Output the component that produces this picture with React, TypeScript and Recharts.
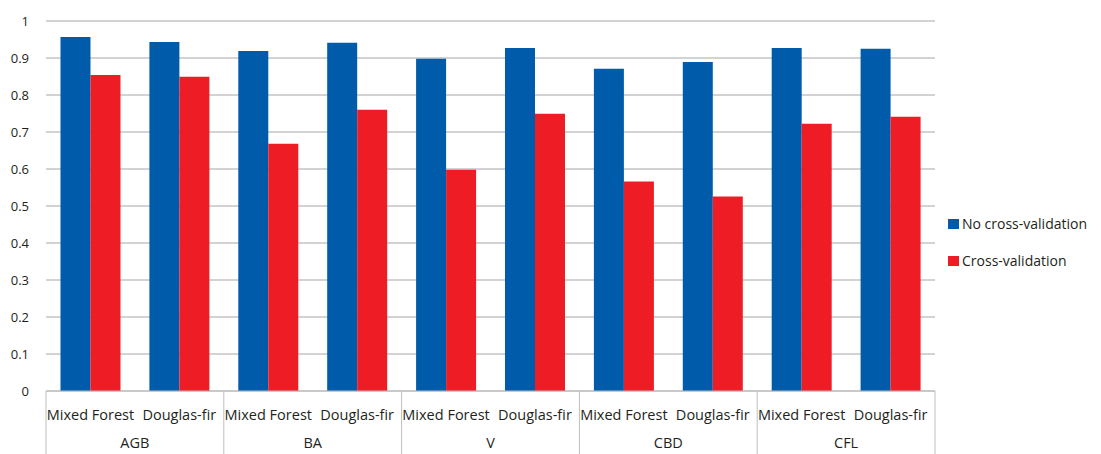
import { BarChart, Bar, XAxis, YAxis, CartesianGrid } from 'recharts'

const groups = ['AGB', 'BA', 'V', 'CBD', 'CFL']
const forestTypes = ['Mixed Forest', 'Douglas-fir']
const noCrossValidation = [0.957, 0.943, 0.919, 0.941, 0.898, 0.927, 0.871, 0.889, 0.927, 0.925]
const crossValidation = [0.854, 0.849, 0.668, 0.76, 0.598, 0.749, 0.566, 0.526, 0.722, 0.741]
const yTicks = [0, 0.1, 0.2, 0.3, 0.4, 0.5, 0.6, 0.7, 0.8, 0.9, 1]

const BLUE = '#005baa'
const RED = '#ee1c25'
const INK = '#231f20'
const FONT = '"Open Sans", sans-serif'

const W = 1101
const H = 454
const LEFT = 46
const RIGHT_MARGIN = 166
const AXIS_H = 63

const data = groups.flatMap((g, gi) =>
  forestTypes.map((f, fi) => ({
    key: `${g}-${f}`,
    type: f,
    group: g,
    noCv: noCrossValidation[gi * 2 + fi],
    cv: crossValidation[gi * 2 + fi],
  }))
)

const band = (W - LEFT - RIGHT_MARGIN) / data.length

function CategoryTick(props: any) {
  const { x, y, payload } = props
  const i = payload.index
  const row = data[i]
  const half = band / 2
  return (
    <g>
      <text x={x} y={y + 29} textAnchor="middle" fill={INK} fontSize={14.5} fontFamily={FONT}>
        {row.type}
      </text>
      {i % 2 === 0 && (
        <>
          <line x1={x - half} x2={x - half} y1={y} y2={y + AXIS_H} stroke="#bfbfbf" />
          <text x={x + half} y={y + 57} textAnchor="middle" fill={INK} fontSize={14.5} fontFamily={FONT}>
            {row.group}
          </text>
        </>
      )}
      {i === data.length - 1 && (
        <line x1={x + half} x2={x + half} y1={y} y2={y + AXIS_H} stroke="#bfbfbf" />
      )}
    </g>
  )
}

function LegendBox() {
  const items = [
    { label: 'No cross-validation', color: BLUE },
    { label: 'Cross-validation', color: RED },
  ]
  return (
    <div style={{ position: 'absolute', left: 948, top: 205, fontFamily: FONT, fontSize: 14, color: INK }}>
      {items.map((it) => (
        <div key={it.label} style={{ display: 'flex', alignItems: 'center', height: 37, whiteSpace: 'nowrap' }}>
          <span style={{ width: 11, height: 10, background: it.color, marginRight: 3, display: 'inline-block' }} />
          {it.label}
        </div>
      ))}
    </div>
  )
}

export default function App() {
  return (
    <div style={{ position: 'absolute', left: 0, top: 0, width: W, height: H, background: '#fff' }}>
      <BarChart
        width={W}
        height={H}
        data={data}
        margin={{ top: 21, right: RIGHT_MARGIN, left: 0, bottom: 0 }}
        barCategoryGap="16.3%"
        barGap={0}
      >
        <CartesianGrid vertical={false} stroke="#a6a6a6" />
        <XAxis
          dataKey="key"
          interval={0}
          height={AXIS_H}
          tickLine={false}
          tickSize={0}
          tickMargin={0}
          axisLine={{ stroke: '#bfbfbf' }}
          tick={<CategoryTick />}
        />
        <YAxis
          width={LEFT}
          domain={[0, 1]}
          ticks={yTicks}
          axisLine={false}
          tickLine={false}
          tickSize={0}
          tickMargin={17}
          tick={{ fontSize: 13, fill: INK, fontFamily: FONT }}
          tickFormatter={(v: number) => String(Math.round(v * 10) / 10)}
        />
        <Bar dataKey="noCv" name="No cross-validation" fill={BLUE} isAnimationActive={false} />
        <Bar dataKey="cv" name="Cross-validation" fill={RED} isAnimationActive={false} />
      </BarChart>
      <LegendBox />
    </div>
  )
}
